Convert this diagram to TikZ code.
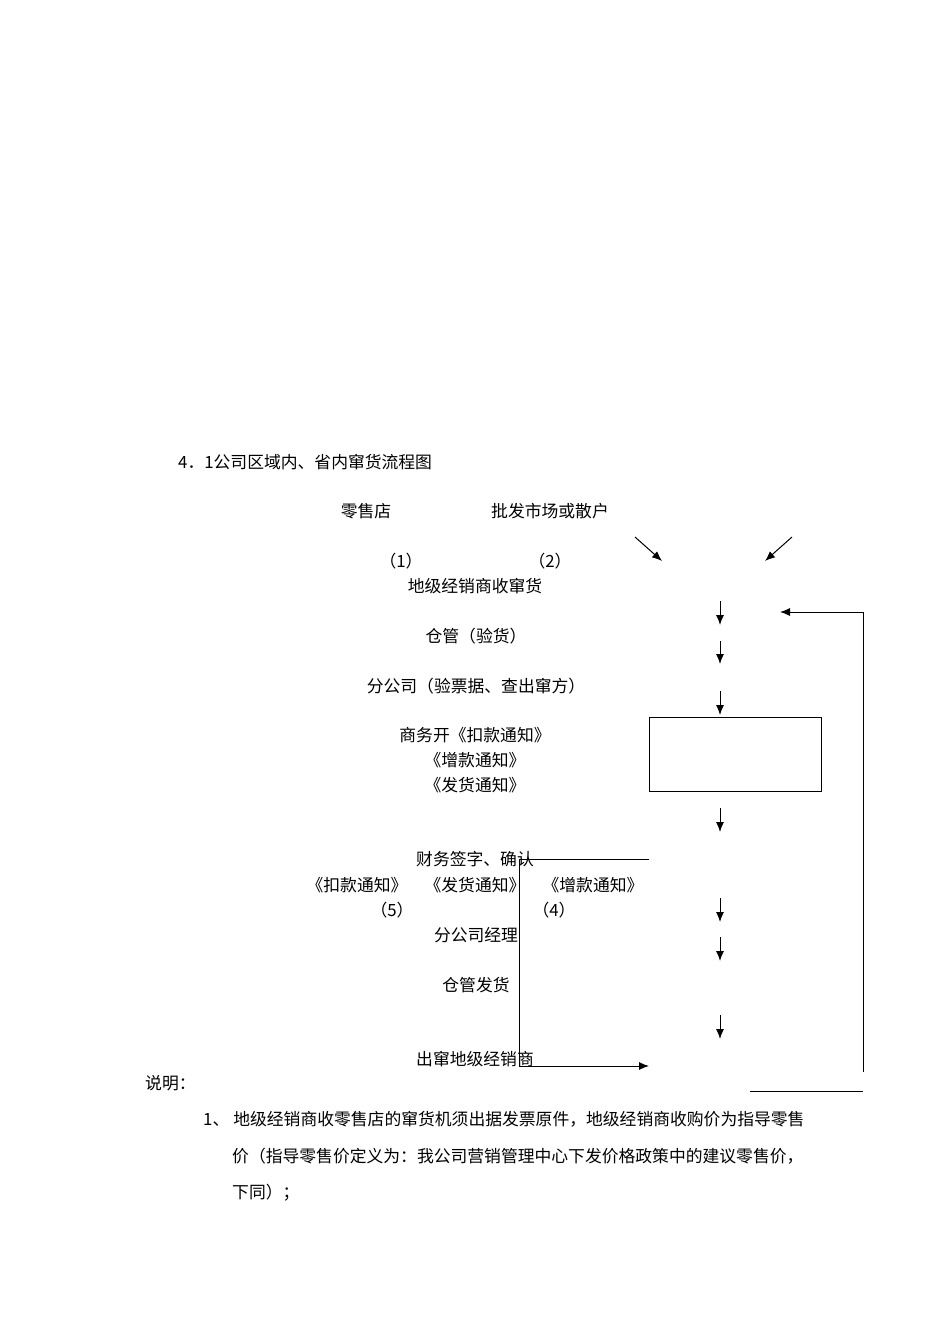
\documentclass[tikz,border=0pt]{standalone}
\usepackage{fontspec}
\setmainfont{Noto Sans CJK SC}
\usetikzlibrary{arrows.meta}
\begin{document}
\begin{tikzpicture}[x=1pt,y=-1pt,font=\fontsize{16.8}{19}\selectfont,
  lbl/.style={inner sep=0pt,anchor=center},
  arr/.style={-{Latex[length=10pt,width=8pt]},line width=1pt},
  ln/.style={line width=1pt}]
\useasboundingbox (0,0) rectangle (950,1344);
\node[lbl,anchor=west] (title) at (178,462) {4．1公司区域内、省内窜货流程图};
\node[lbl] (a) at (366,511) {零售店};
\node[lbl] (b) at (550,511) {批发市场或散户};
\node[lbl] (n1) at (401,561) {（1）};
\node[lbl] (n2) at (550,561) {（2）};
\node[lbl] (c) at (475,586) {地级经销商收窜货};
\node[lbl] (d) at (476,636) {仓管（验货）};
\node[lbl] (e) at (476,686) {分公司（验票据、查出窜方）};
\node[lbl] (f1) at (475,735) {商务开《扣款通知》};
\node[lbl] (f2) at (475,760) {《增款通知》};
\node[lbl] (f3) at (475,785) {《发货通知》};
\node[lbl] (g) at (475,859) {财务签字、确认};
\node[lbl] (h1) at (357,885) {《扣款通知》};
\node[lbl] (h2) at (475,885) {《发货通知》};
\node[lbl] (h3) at (593,885) {《增款通知》};
\node[lbl] (n5) at (392,910) {（5）};
\node[lbl] (n4) at (554,910) {（4）};
\node[lbl] (i) at (476,935) {分公司经理};
\node[lbl] (j) at (476,985) {仓管发货};
\node[lbl] (k) at (475,1059) {出窜地级经销商};
\node[lbl,anchor=west] (s) at (145,1083) {说明：};
\node[lbl,anchor=west] (s1) at (203,1119) {1、\hspace{4pt}地级经销商收零售店的窜货机须出据发票原件，地级经销商收购价为指导零售};
\node[lbl,anchor=west] (s2) at (232,1156) {价（指导零售价定义为：我公司营销管理中心下发价格政策中的建议零售价，};
\node[lbl,anchor=west] (s3) at (232,1193) {下同）；};
% arrows
\draw[arr] (635,537) -- (662,561);
\draw[arr] (792,537) -- (765,561);
\foreach \ya/\yb in {601/625,641/664,691/715,808/832,898/922,937/961,1015/1039}
  \draw[arr] (720,\ya) -- (720,\yb);
\node[draw,line width=1pt,minimum width=172pt,minimum height=74pt,inner sep=0pt] (box) at (735,754) {};
\coordinate (fb0) at (863,1072);
\coordinate (fb1) at (863,612);
\coordinate (fb2) at (780,612);
\draw[arr] (fb0) -- (fb1) -- (fb2);
\coordinate (l0) at (750,1091); \coordinate (l1) at (863,1091);
\draw[ln] (l0) -- (l1);
\coordinate (b0) at (649,859); \coordinate (b1) at (519,859);
\coordinate (b2) at (519,1066); \coordinate (b3) at (649,1066);
\draw[arr] (b0) -- (b1) -- (b2) -- (b3);
\end{tikzpicture}
\end{document}
